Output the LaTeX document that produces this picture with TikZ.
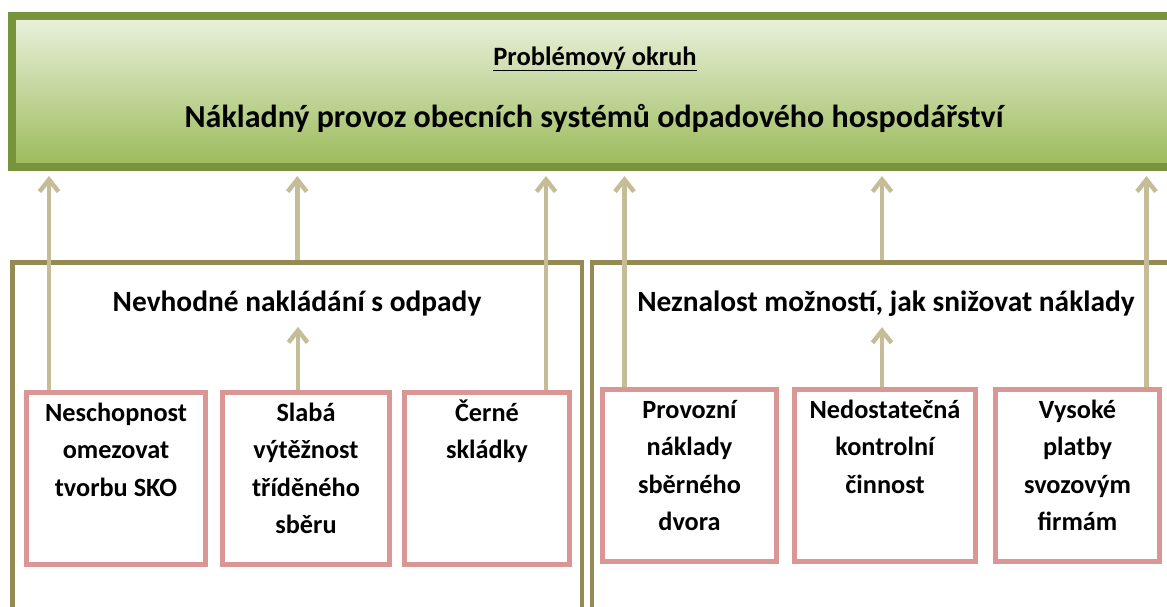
\documentclass[tikz,border=0pt]{standalone}
\usepackage{fontspec}
\setmainfont{Carlito}
\usepackage{tikz}
\usetikzlibrary{arrows.meta,positioning}
\usepackage{xcolor}
\definecolor{okruhframe}{HTML}{77933C}
\definecolor{okruhtop}{HTML}{EBF1DE}
\definecolor{okruhbottom}{HTML}{9BBB59}
\definecolor{groupframe}{HTML}{948A54}
\definecolor{causeframe}{HTML}{D99694}
\definecolor{arrowtan}{HTML}{C4BD97}

\tikzset{
  okruhbox/.style={draw=okruhframe, line width=8pt, top color=okruhtop, bottom color=okruhbottom, inner sep=0pt},
  groupbox/.style={draw=groupframe, line width=4.5pt, inner sep=0pt},
  causebox/.style={draw=causeframe, line width=5pt, fill=white, inner sep=0pt, minimum height=172pt},
  causetext/.style={anchor=north, inner sep=0pt, align=center, font=\fontsize{26.3}{37.5}\selectfont\bfseries},
  grouptext/.style={anchor=base, inner sep=0pt, font=\fontsize{29.4}{34}\selectfont\bfseries},
  uparrow/.style={draw=arrowtan, line width=4.5pt, -{Straight Barb[length=12pt,width=19pt]}}
}

\begin{document}
\begin{tikzpicture}[x=1pt, y=-1pt]
    \useasboundingbox (0,0) rectangle (1167,606);
    \clip (0,0) rectangle (1167,606);

    % horni okruh
    \node[okruhbox, minimum width=1168pt, minimum height=151pt] (okruh) at (596, 91.5) {};
    \node[anchor=base, font=\fontsize{26.5}{30}\selectfont\bfseries] (okruhlabel) at (595, 65) {\underline{Problémový okruh}};
    \node[anchor=base, font=\fontsize{32}{38}\selectfont\bfseries] (okruhname) at (594, 127) {Nákladný provoz obecních systémů odpadového hospodářství};

    % dve skupiny priciny
    \node[groupbox, minimum width=569.5pt, minimum height=387.5pt] (left) at (297.25, 456.25) {};
    \node[groupbox, minimum width=580pt, minimum height=387.5pt] (right) at (882, 456.25) {};
    \node[grouptext] (lefttitle) at (297, 311) {Nevhodné nakládání s odpady};
    \node[grouptext] (righttitle) at (886, 311) {Neznalost možností, jak snižovat náklady};

    % pricinne boxy vlevo
    \node[causebox, minimum width=179pt] (c1) at (116, 478.5) {};
    \node[causebox, minimum width=167pt] (c2) at (306, 478.5) {};
    \node[causebox, minimum width=165pt] (c3) at (487, 478.5) {};
    \node[causetext] (c1t) at ([yshift=-5pt]c1.north) {\strut Neschopnost\\omezovat\\tvorbu SKO};
    \node[causetext] (c2t) at ([yshift=-5pt]c2.north) {\strut Slabá\\výtěžnost\\tříděného\\sběru};
    \node[causetext] (c3t) at ([yshift=-5pt]c3.north) {\strut Černé\\skládky};

    % pricinne boxy vpravo
    \node[causebox, minimum width=174pt] (c4) at (689.5, 475.5) {};
    \node[causebox, minimum width=181pt] (c5) at (885, 475.5) {};
    \node[causebox, minimum width=164pt] (c6) at (1077.5, 475.5) {};
    \node[causetext] (c4t) at ([yshift=-5pt]c4.north) {\strut Provozní\\náklady\\sběrného\\dvora};
    \node[causetext] (c5t) at ([yshift=-5pt]c5.north) {\strut Nedostatečná\\kontrolní\\činnost};
    \node[causetext] (c6t) at ([yshift=-5pt]c6.north) {\strut Vysoké\\platby\\svozovým\\firmám};

    % sipky nahoru
    \draw[uparrow, shorten >=5pt] ([xshift=-67pt]c1.north) -- ([xshift=-67pt]c1.north |- okruh.south);
    \draw[uparrow, shorten >=5pt] (left.north) -- (left.north |- okruh.south);
    \draw[uparrow, shorten >=5pt] ([xshift=59pt]c3.north) -- ([xshift=59pt]c3.north |- okruh.south);
    \draw[uparrow, shorten >=5pt] ([xshift=-65pt]c4.north) -- ([xshift=-65pt]c4.north |- okruh.south);
    \draw[uparrow, shorten >=5pt] (right.north) -- (right.north |- okruh.south);
    \draw[uparrow, shorten >=5pt] ([xshift=69pt]c6.north) -- ([xshift=69pt]c6.north |- okruh.south);
    \draw[uparrow, shorten >=11pt] ([xshift=-8pt]c2.north) -- ([xshift=-8pt]c2.north |- lefttitle.south);
    \draw[uparrow, shorten >=11pt] ([xshift=-3pt]c5.north) -- ([xshift=-3pt]c5.north |- righttitle.south);
\end{tikzpicture}
\end{document}
